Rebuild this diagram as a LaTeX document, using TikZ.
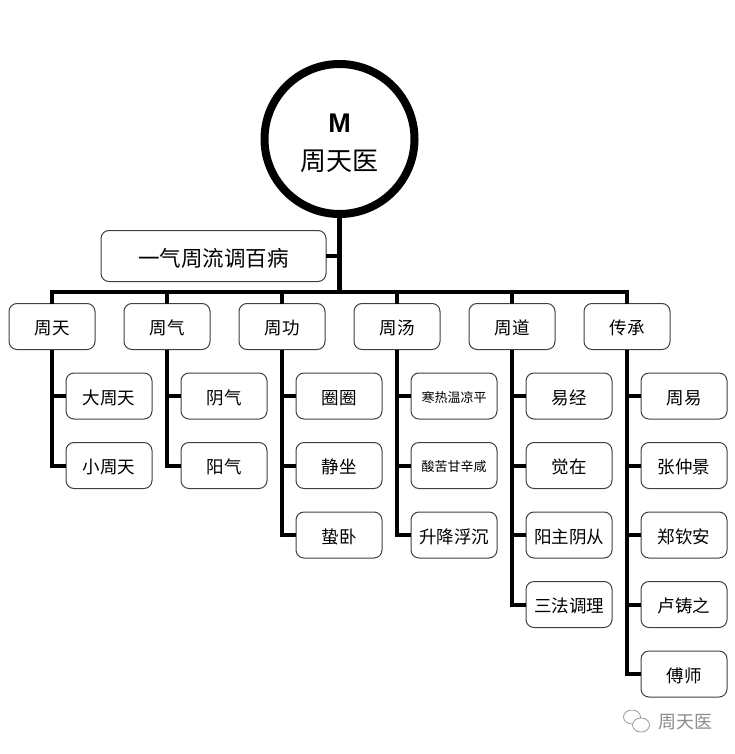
\documentclass[tikz,border=0pt]{standalone}
\usepackage{fontspec}
\setmainfont{Noto Sans CJK SC}
\newfontfamily\latinbold{Liberation Sans}
\usetikzlibrary{positioning,shapes.geometric}
\tikzset{
  box/.style={draw=black!75, fill=white, rounded corners=8pt, line width=1pt, outer sep=0pt, inner sep=0pt,
    minimum width=86pt, minimum height=46pt, text height=16pt, text depth=0pt, font=\fontsize{17.5}{20}\selectfont},
  small_box/.style={box, text height=12pt, font=\fontsize{13}{16}\selectfont},
  wide_box/.style={box, minimum width=225pt, minimum height=51pt, text height=20pt, font=\fontsize{21.5}{25}\selectfont},
  root_circle/.style={circle, draw=black, fill=white, line width=8pt, outer sep=0pt, inner sep=0pt,
    minimum size=150pt, align=center},
  trunk/.style={draw=black, line width=4pt},
  wechat/.style={draw=black!40, line width=0.8pt, fill=white}
}

\begin{document}
\begin{tikzpicture}[x=1pt, y=-1pt]
      \useasboundingbox (0,0) rectangle (735,754);

      % nodes

      %root
      \node[root_circle] (root) at (339.5,139) {\rule{0pt}{27pt}{\latinbold\bfseries\fontsize{27}{28}\selectfont M}\\[16pt]{\fontsize{26}{30}\selectfont 周天医}};
      \node[wide_box, below=16.5pt of root, xshift=-126pt] (yi_qi) {一气周流调百病};

      %top row
      \node[box] (zhou_tian) at (52,326.5) {周天};
      \node[box, right=29pt of zhou_tian] (zhou_qi) {周气};
      \node[box, right=29pt of zhou_qi] (zhou_gong) {周功};
      \node[box, right=29pt of zhou_gong] (zhou_tang) {周汤};
      \node[box, right=29pt of zhou_tang] (zhou_dao) {周道};
      \node[box, right=29pt of zhou_dao] (chuan_cheng) {传承};

      %zhou tian
      \node[box, below=23.5pt of zhou_tian, xshift=57pt] (da_zhou_tian) {大周天};
      \node[box, below=23.5pt of da_zhou_tian] (xiao_zhou_tian) {小周天};

      %zhou qi
      \node[box, below=23.5pt of zhou_qi, xshift=57pt] (yin_qi) {阴气};
      \node[box, below=23.5pt of yin_qi] (yang_qi) {阳气};

      %zhou gong
      \node[box, below=23.5pt of zhou_gong, xshift=57pt] (quan_quan) {圈圈};
      \node[box, below=23.5pt of quan_quan] (jing_zuo) {静坐};
      \node[box, below=23.5pt of jing_zuo] (zhe_wo) {蛰卧};

      %zhou tang
      \node[small_box, below=23.5pt of zhou_tang, xshift=57pt] (han_re) {寒热温凉平};
      \node[small_box, below=23.5pt of han_re] (suan_ku) {酸苦甘辛咸};
      \node[box, below=23.5pt of suan_ku] (sheng_jiang) {升降浮沉};

      %zhou dao
      \node[box, below=23.5pt of zhou_dao, xshift=57pt] (yi_jing) {易经};
      \node[box, below=23.5pt of yi_jing] (jue_zai) {觉在};
      \node[box, below=23.5pt of jue_zai] (yang_zhu) {阳主阴从};
      \node[box, below=23.5pt of yang_zhu] (san_fa) {三法调理};

      %chuan cheng
      \node[box, below=23.5pt of chuan_cheng, xshift=57pt] (zhou_yi) {周易};
      \node[box, below=23.5pt of zhou_yi] (zhang_zhongjing) {张仲景};
      \node[box, below=23.5pt of zhang_zhongjing] (zheng_qinan) {郑钦安};
      \node[box, below=23.5pt of zheng_qinan] (lu_zhuzhi) {卢铸之};
      \node[box, below=23.5pt of lu_zhuzhi] (fu_shi) {傅师};

      %watermark
      \node[text=black!45, font=\fontsize{18}{20}\selectfont] (mark) at (685,722) {周天医};
      \node[wechat, ellipse, minimum width=17pt, minimum height=14pt, inner sep=0pt] (bubble_small) at (632,717) {};
      \node[wechat, ellipse, minimum width=17pt, minimum height=14pt, inner sep=0pt] (bubble_big) at (641,725) {};
      \coordinate (bus) at (339.5,291.5);

      % edges
      \draw[trunk, line width=5pt] (root.south) -- (bus);
      \draw[trunk] (yi_qi.east) -- (yi_qi.east -| root.south);
      \draw[trunk] (zhou_tian.north) |- (bus) -| (chuan_cheng.north);
      \draw[trunk] (zhou_qi.north) -- (zhou_qi.north |- bus);
      \draw[trunk] (zhou_gong.north) -- (zhou_gong.north |- bus);
      \draw[trunk] (zhou_tang.north) -- (zhou_tang.north |- bus);
      \draw[trunk] (zhou_dao.north) -- (zhou_dao.north |- bus);

      \draw[trunk] (zhou_tian.south) |- (xiao_zhou_tian.west);
      \draw[trunk] (zhou_tian.south |- da_zhou_tian.west) -- (da_zhou_tian.west);

      \draw[trunk] (zhou_qi.south) |- (yang_qi.west);
      \draw[trunk] (zhou_qi.south |- yin_qi.west) -- (yin_qi.west);

      \draw[trunk] (zhou_gong.south) |- (zhe_wo.west);
      \draw[trunk] (zhou_gong.south |- quan_quan.west) -- (quan_quan.west);
      \draw[trunk] (zhou_gong.south |- jing_zuo.west) -- (jing_zuo.west);

      \draw[trunk] (zhou_tang.south) |- (sheng_jiang.west);
      \draw[trunk] (zhou_tang.south |- han_re.west) -- (han_re.west);
      \draw[trunk] (zhou_tang.south |- suan_ku.west) -- (suan_ku.west);

      \draw[trunk] (zhou_dao.south) |- (san_fa.west);
      \draw[trunk] (zhou_dao.south |- yi_jing.west) -- (yi_jing.west);
      \draw[trunk] (zhou_dao.south |- jue_zai.west) -- (jue_zai.west);
      \draw[trunk] (zhou_dao.south |- yang_zhu.west) -- (yang_zhu.west);

      \draw[trunk] (chuan_cheng.south) |- (fu_shi.west);
      \draw[trunk] (chuan_cheng.south |- zhou_yi.west) -- (zhou_yi.west);
      \draw[trunk] (chuan_cheng.south |- zhang_zhongjing.west) -- (zhang_zhongjing.west);
      \draw[trunk] (chuan_cheng.south |- zheng_qinan.west) -- (zheng_qinan.west);
      \draw[trunk] (chuan_cheng.south |- lu_zhuzhi.west) -- (lu_zhuzhi.west);

\end{tikzpicture}
\end{document}
